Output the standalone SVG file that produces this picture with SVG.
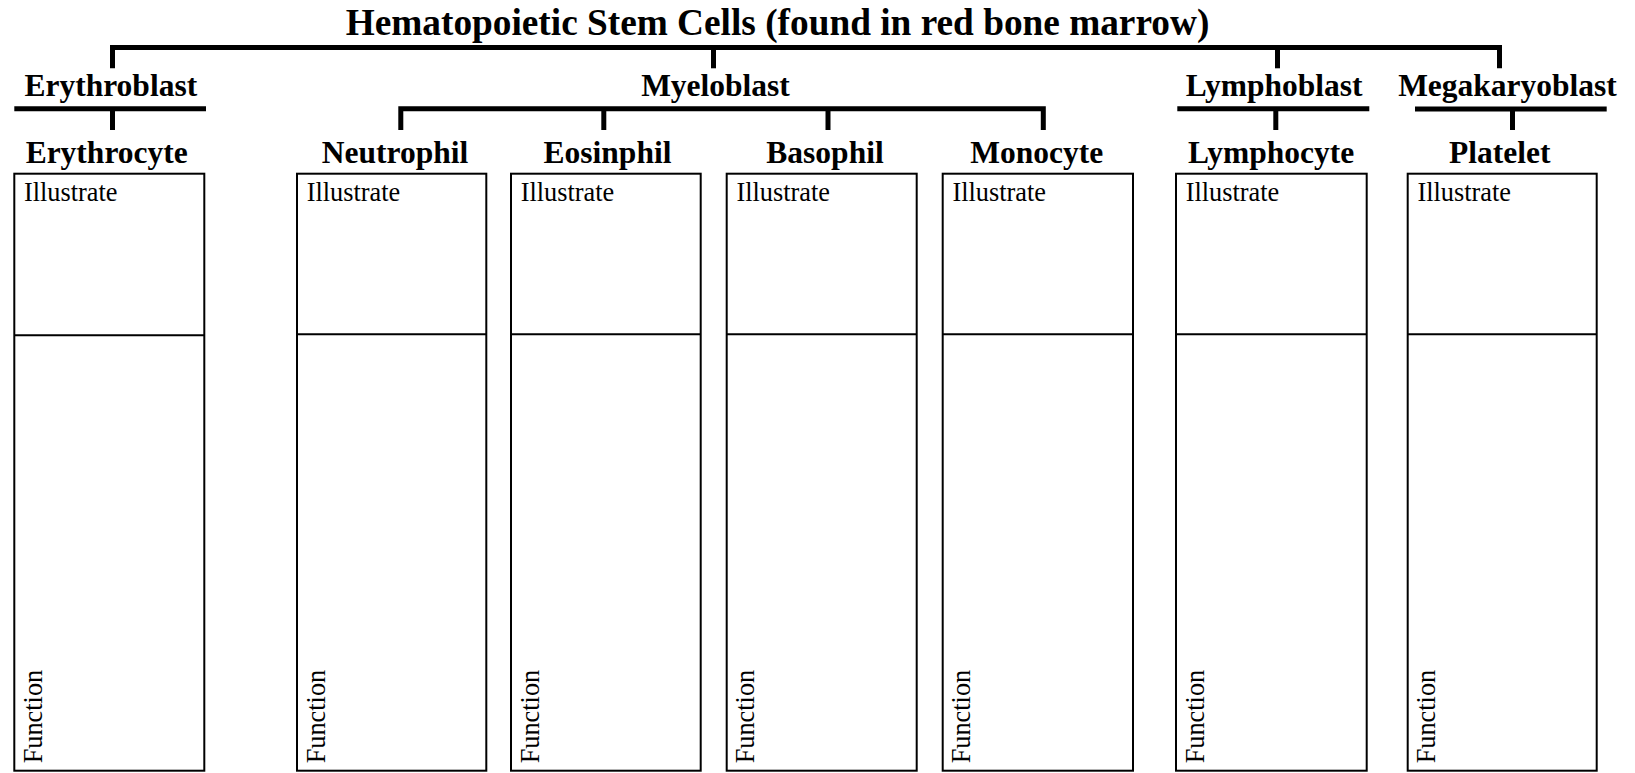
<svg xmlns="http://www.w3.org/2000/svg" width="1635" height="773" viewBox="0 0 1635 773">
<style>
text{font-family:"Liberation Serif","Times New Roman",serif;fill:#000}
.title{font-size:37.3px;font-weight:bold;text-anchor:middle}
.head{font-size:31.5px;font-weight:bold;text-anchor:middle}
.lbl{font-size:26.3px}
.box{fill:#fff;stroke:#000;stroke-width:2}
.div{stroke:#000;stroke-width:2}
.con{fill:none;stroke:#000;stroke-width:5;stroke-linejoin:miter;stroke-linecap:butt}
</style>
<rect width="1635" height="773" fill="#fff"/>
<g id="title"><text class="title" x="777.5" y="35">Hematopoietic Stem Cells (found in red bone marrow)</text></g>
<g id="connectors">
<path class="con" d="M112.5 68.3V47.5H1499.5V68.3"/>
<path class="con" d="M713.5 47.5V68.3"/>
<path class="con" d="M1277.5 47.5V68.3"/>
<path class="con" d="M14.3 108.7H206"/>
<path class="con" d="M112.5 108.7V130"/>
<path class="con" d="M400.8 130V108.7H1043.3V130"/>
<path class="con" d="M603.8 108.7V130"/>
<path class="con" d="M828 108.7V130"/>
<path class="con" d="M1177.3 108.7H1369.3"/>
<path class="con" d="M1275.8 108.7V130"/>
<path class="con" d="M1415 109H1606.7"/>
<path class="con" d="M1512.5 109V130"/>
</g>
<g id="erythroblast"><text class="head" x="110.8" y="95.8">Erythroblast</text></g>
<g id="myeloblast"><text class="head" x="715.5" y="95.8">Myeloblast</text></g>
<g id="lymphoblast"><text class="head" x="1274.2" y="95.8">Lymphoblast</text></g>
<g id="megakaryoblast"><text class="head" x="1507.5" y="95.8">Megakaryoblast</text></g>
<g id="erythrocyte">
<text class="head" x="106.7" y="163.3">Erythrocyte</text>
<rect class="box" x="14.3" y="173.7" width="190" height="597"/>
<line class="div" x1="14.3" y1="335.3" x2="204.3" y2="335.3"/>
<text class="lbl" x="24" y="200.7">Illustrate</text>
<text class="lbl" transform="translate(42 763.3) rotate(-90)">Function</text>
</g>
<g id="neutrophil">
<text class="head" x="395" y="163.3">Neutrophil</text>
<rect class="box" x="297" y="173.7" width="189.3" height="597"/>
<line class="div" x1="297" y1="334.3" x2="486.3" y2="334.3"/>
<text class="lbl" x="306.7" y="200.7">Illustrate</text>
<text class="lbl" transform="translate(324.5 763.3) rotate(-90)">Function</text>
</g>
<g id="eosinphil">
<text class="head" x="607.5" y="163.3">Eosinphil</text>
<rect class="box" x="511" y="173.7" width="189.7" height="597"/>
<line class="div" x1="511" y1="334.3" x2="700.7" y2="334.3"/>
<text class="lbl" x="520.7" y="200.7">Illustrate</text>
<text class="lbl" transform="translate(538.5 763.3) rotate(-90)">Function</text>
</g>
<g id="basophil">
<text class="head" x="825" y="163.3">Basophil</text>
<rect class="box" x="726.7" y="173.7" width="190" height="597"/>
<line class="div" x1="726.7" y1="334.3" x2="916.7" y2="334.3"/>
<text class="lbl" x="736.4" y="200.7">Illustrate</text>
<text class="lbl" transform="translate(754.2 763.3) rotate(-90)">Function</text>
</g>
<g id="monocyte">
<text class="head" x="1036.7" y="163.3">Monocyte</text>
<rect class="box" x="942.7" y="173.7" width="190.3" height="597"/>
<line class="div" x1="942.7" y1="334.3" x2="1133" y2="334.3"/>
<text class="lbl" x="952.4" y="200.7">Illustrate</text>
<text class="lbl" transform="translate(970.2 763.3) rotate(-90)">Function</text>
</g>
<g id="lymphocyte">
<text class="head" x="1271.2" y="163.3">Lymphocyte</text>
<rect class="box" x="1176" y="173.7" width="190.7" height="597"/>
<line class="div" x1="1176" y1="334.3" x2="1366.7" y2="334.3"/>
<text class="lbl" x="1185.7" y="200.7">Illustrate</text>
<text class="lbl" transform="translate(1203.5 763.3) rotate(-90)">Function</text>
</g>
<g id="platelet">
<text class="head" x="1499.7" y="163.3">Platelet</text>
<rect class="box" x="1407.7" y="173.7" width="189" height="597"/>
<line class="div" x1="1407.7" y1="334.3" x2="1596.7" y2="334.3"/>
<text class="lbl" x="1417.4" y="200.7">Illustrate</text>
<text class="lbl" transform="translate(1435.2 763.3) rotate(-90)">Function</text>
</g>
</svg>
